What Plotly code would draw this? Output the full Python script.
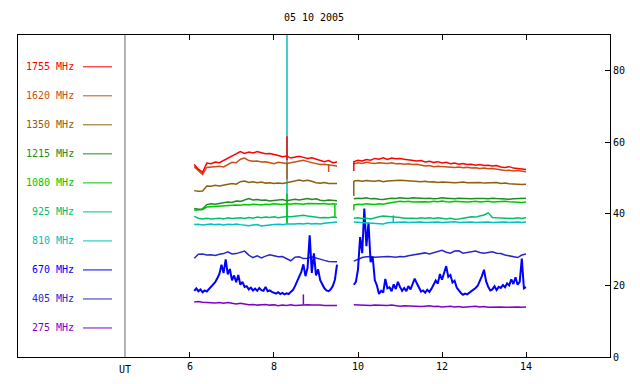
import plotly.graph_objects as go

# ---------------- data ----------------
title_text = "05 10 2005"
channels = ["275 MHz", "405 MHz", "670 MHz", "810 MHz", "925 MHz",
            "1080 MHz", "1215 MHz", "1350 MHz", "1620 MHz", "1755 MHz"]
channel_colors = ["#8000c8", "#2828c8", "#0000ff", "#00c0c0", "#00c070",
                  "#00c800", "#228b22", "#8c6010", "#c85014", "#ff0000"]
x_tick_vals = [6, 8, 10, 12, 14]
x_tick_text = ["6", "8", "10", "12", "14"]
y_tick_vals = [0, 20, 40, 60, 80]
y_tick_text = ["0", "20", "40", "60", "80"]
ut_position = 4.452
ut_label = "UT"

# sampling grids (hours UT)
t1 = [round(6.1 + 0.1 * i, 2) for i in range(35)]      # 6.1 .. 9.5
t2 = [round(9.9 + 0.1 * i, 2) for i in range(42)]      # 9.9 .. 14.0
t1f = [round(6.1 + 0.05 * i, 3) for i in range(69)]    # 6.10 .. 9.50
t2f = [round(9.9 + 0.05 * i, 3) for i in range(83)]    # 9.90 .. 14.00

f1755_a = [53.8, 52.5, 51.6, 54.2, 54.0, 54.5, 54.3, 54.9, 55.6, 56.0, 56.6, 57.4, 56.9, 57.3, 57.0,
           57.4, 57.1, 56.8, 56.9, 56.5, 56.3, 56.0, 56.2, 55.6, 55.9, 56.1, 55.8, 55.5, 55.7, 55.4,
           54.9, 54.6, 54.9, 54.3, 54.5]
f1755_b = [54.6, 55.0, 54.8, 55.2, 55.0, 55.5, 55.3, 55.7, 55.2, 55.6, 55.4, 55.5, 55.3, 55.1, 55.0,
           54.8, 54.9, 54.5, 54.7, 54.4, 54.6, 54.2, 54.4, 54.0, 54.2, 53.9, 54.1, 53.8, 53.9, 53.6,
           53.8, 53.5, 53.6, 53.4, 53.5, 53.1, 53.0, 53.2, 52.8, 52.7, 52.5, 52.4]
f1620_a = [53.2, 52.0, 51.0, 53.0, 53.1, 53.0, 53.3, 53.1, 53.8, 54.4, 54.3, 55.3, 55.6, 54.9, 54.7,
           54.8, 54.5, 54.6, 54.3, 54.0, 54.4, 54.2, 54.1, 54.3, 54.5, 54.9, 55.0, 54.6, 54.4, 54.1,
           53.8, 53.9, 53.6, 53.5, 53.4]
f1620_b = [54.0, 54.3, 54.1, 54.4, 54.2, 54.1, 54.3, 54.2, 54.1, 54.3, 54.0, 54.1, 53.9, 54.0, 53.8,
           53.9, 53.6, 53.4, 53.5, 53.2, 53.3, 53.2, 53.1, 53.2, 53.0, 53.1, 52.9, 53.0, 52.8, 52.9,
           52.7, 52.8, 52.6, 52.7, 52.5, 52.3, 52.1, 52.2, 52.0, 52.1, 51.9, 51.8]
f1350_a = [46.5, 46.3, 46.4, 47.8, 47.7, 48.0, 47.8, 48.1, 48.3, 48.5, 48.3, 49.0, 49.2, 48.8, 49.0,
           48.7, 48.9, 48.6, 48.7, 48.5, 48.6, 48.5, 48.7, 48.9, 49.3, 49.5, 49.2, 49.4, 49.1, 48.7,
           48.6, 48.8, 48.5, 48.6, 48.5]
f1350_b = [49.2, 49.3, 49.1, 49.3, 49.2, 49.1, 49.3, 49.0, 49.2, 49.3, 49.2, 49.4, 49.3, 49.2, 49.3,
           49.1, 49.0, 49.1, 48.9, 49.0, 48.8, 48.9, 48.8, 48.9, 48.7, 48.8, 48.9, 48.7, 48.8, 48.7,
           48.8, 48.6, 48.7, 48.6, 48.8, 48.5, 48.6, 48.4, 48.3, 48.4, 48.2, 48.3]
f1215_a = [41.5, 41.3, 41.4, 42.6, 42.8, 42.7, 42.9, 43.1, 43.3, 43.2, 43.6, 43.5, 43.8, 44.3, 43.9,
           44.0, 43.8, 43.9, 43.6, 43.7, 43.8, 44.0, 43.7, 43.9, 44.1, 43.9, 44.2, 44.3, 44.0, 44.2,
           43.8, 43.7, 43.9, 43.8, 43.7]
f1215_b = [44.2, 44.4, 44.3, 44.5, 44.2, 44.3, 44.1, 44.0, 44.2, 44.4, 44.3, 44.5, 44.4, 44.3, 44.5,
           44.4, 44.2, 44.3, 44.4, 44.2, 44.3, 44.5, 44.4, 44.3, 44.2, 44.4, 44.3, 44.4, 44.2, 44.3,
           44.4, 44.3, 44.2, 44.4, 44.3, 44.2, 44.3, 44.1, 44.2, 44.3, 44.2, 44.4]
f1080_a = [41.0, 41.1, 41.2, 41.9, 42.0, 42.1, 42.0, 42.3, 42.2, 42.4, 42.5, 42.4, 42.6, 42.5, 42.7,
           42.6, 42.5, 42.7, 42.6, 42.8, 42.7, 42.6, 42.8, 42.7, 42.9, 42.8, 42.7, 42.9, 42.8, 42.7,
           42.8, 42.9, 42.7, 42.8, 42.7]
f1080_b = [42.5, 42.7, 42.6, 42.8, 42.7, 42.6, 42.8, 42.7, 43.0, 43.2, 43.4, 43.5, 43.4, 43.5, 43.3,
           43.4, 43.5, 43.4, 43.3, 43.5, 43.4, 43.6, 43.4, 43.3, 43.5, 43.4, 43.5, 43.3, 43.4, 43.5,
           43.3, 43.4, 43.5, 43.3, 43.4, 43.3, 43.5, 43.4, 43.3, 43.4, 43.2, 43.3]
f925_a = [39.3, 38.8, 38.6, 38.8, 38.6, 38.7, 38.8, 38.6, 38.9, 38.7, 38.8, 38.9, 38.7, 39.0, 38.8,
          39.1, 38.9, 39.1, 39.0, 39.2, 38.9, 39.1, 39.3, 39.2, 39.4, 39.5, 39.6, 39.4, 39.2, 39.1,
          38.9, 39.0, 38.9, 39.1, 39.0]
f925_b = [38.8, 38.9, 38.7, 38.8, 38.6, 39.0, 39.2, 39.4, 39.3, 39.4, 39.2, 39.0, 38.8, 38.9, 38.8,
          38.7, 38.9, 38.8, 38.9, 38.7, 38.9, 38.8, 38.6, 38.8, 38.5, 38.6, 38.9, 39.0, 39.2, 39.1,
          39.4, 39.7, 40.3, 39.0, 38.9, 38.8, 38.9, 38.8, 38.7, 38.9, 38.7, 39.0]
f810_a = [37.0, 37.1, 36.9, 37.0, 37.2, 37.0, 37.1, 36.9, 37.1, 37.0, 37.2, 37.0, 36.9, 36.7, 36.9,
          37.0, 36.6, 36.8, 36.9, 37.0, 37.1, 37.0, 37.2, 37.1, 37.2, 37.3, 37.2, 37.4, 37.2, 37.3,
          37.2, 37.4, 37.5, 37.6, 37.7]
f810_b = [37.7, 37.6, 37.5, 37.4, 37.3, 37.2, 37.3, 37.2, 37.5, 37.6, 37.7, 37.6, 37.7, 37.6, 37.7,
          37.8, 37.7, 37.6, 37.7, 37.8, 37.7, 37.6, 37.7, 37.7, 37.8, 37.6, 37.7, 37.8, 37.7, 37.6,
          37.7, 37.8, 37.7, 37.6, 37.7, 37.8, 37.7, 37.6, 37.7, 37.7, 37.6, 37.7]
f670_a = [18.5, 19.2, 18.4, 18.9, 18.1, 18.6, 18.3, 19.0, 19.4, 20.3, 20.9, 22.0, 23.2, 25.8, 23.5,
          27.3, 23.1, 24.6, 21.4, 22.8, 20.9, 22.9, 20.2, 21.0, 19.6, 19.8, 18.9, 19.4, 18.6, 19.1,
          18.5, 19.3, 18.7, 18.5, 19.6, 18.4, 18.6, 18.2, 18.0, 17.7, 18.1, 17.6, 17.9, 17.5, 17.8,
          17.6, 18.2, 18.7, 19.8, 21.0, 22.4, 23.8, 25.9, 22.6, 25.0, 34.0, 23.5, 29.0, 22.8, 24.5,
          21.5, 20.4, 19.2, 18.6, 18.4, 18.9, 19.8, 21.6, 25.8]
f670_b = [20.2, 21.0, 24.5, 33.5, 29.0, 41.5, 31.0, 37.5, 26.5, 28.0, 21.5, 20.0, 17.6, 18.5, 18.0,
          21.8, 19.2, 19.5, 18.4, 20.3, 19.0, 21.0, 19.6, 18.5, 19.3, 18.4, 19.8, 18.9, 20.4, 21.9,
          20.6, 19.2, 18.3, 18.6, 18.0, 18.8, 18.2, 19.1, 20.2, 21.4, 20.5, 23.2, 21.6, 23.6, 25.4,
          22.4, 22.9, 20.8, 21.3, 19.4, 18.6, 17.9, 17.4, 17.7, 17.5, 17.9, 18.4, 18.7, 19.3, 19.9,
          21.1, 22.6, 24.4, 21.2, 19.6, 18.6, 18.9, 19.8, 18.7, 19.6, 19.3, 20.1, 19.5, 20.6, 20.0,
          21.7, 20.4, 22.3, 20.2, 21.0, 27.5, 19.2, 19.5]
f405_a = [27.6, 28.7, 28.8, 28.5, 28.6, 28.4, 28.7, 28.9, 29.4, 28.8, 28.9, 29.2, 29.6, 28.5, 27.8,
          28.3, 27.7, 28.2, 28.6, 28.3, 28.0, 28.1, 27.5, 26.9, 27.9, 28.0, 27.5, 27.6, 28.0, 27.6,
          27.2, 27.0, 26.7, 26.6, 26.6]
f405_b = [26.8, 27.3, 27.8, 28.0, 28.1, 27.9, 28.0, 27.9, 28.1, 28.0, 27.9, 28.1, 28.0, 28.3, 28.5,
          28.6, 28.9, 29.1, 28.8, 29.1, 29.4, 29.8, 29.3, 29.0, 29.6, 29.7, 29.0, 29.2, 29.3, 29.6,
          29.2, 29.0, 29.2, 29.4, 29.0, 28.9, 28.5, 28.2, 28.0, 27.8, 28.5, 28.8]
f275_a = [15.4, 15.5, 15.3, 15.2, 15.3, 15.1, 15.2, 15.0, 15.2, 14.9, 14.8, 15.0, 14.7, 14.6, 14.7,
          14.5, 14.6, 14.7, 14.5, 14.6, 14.3, 14.5, 14.4, 14.6, 14.4, 14.5, 14.7, 14.6, 14.5, 14.6,
          14.5, 14.4, 14.5, 14.4, 14.4]
f275_b = [14.6, 14.5, 14.6, 14.5, 14.4, 14.5, 14.4, 14.5, 14.4, 14.5, 14.3, 14.2, 14.3, 14.2, 14.3,
          14.2, 14.1, 14.2, 14.3, 14.1, 14.2, 14.0, 14.1, 14.2, 14.0, 14.1, 13.9, 14.0, 14.1, 14.2,
          14.0, 14.1, 13.9, 14.0, 14.1, 14.0, 13.9, 14.0, 14.1, 14.0, 13.9, 14.0]

# short spikes: channel, time, low value, high value
spikes = [
    ("810 MHz", 8.31, 37.2, 95.0),
    ("1080 MHz", 8.31, 37.5, 45.6),
    ("1620 MHz", 8.31, 49.7, 54.4),
    ("1755 MHz", 8.31, 55.0, 61.7),
    ("275 MHz", 8.70, 14.6, 17.5),
    ("1620 MHz", 9.30, 51.7, 53.8),
    ("1080 MHz", 9.45, 39.0, 42.7),
    ("1755 MHz", 9.90, 52.0, 54.8),
    ("1350 MHz", 9.90, 45.0, 49.2),
    ("1080 MHz", 9.90, 41.0, 42.6),
    ("810 MHz", 10.84, 37.6, 39.6),
]

series = {
    "275 MHz": (t1, f275_a, t2, f275_b),
    "405 MHz": (t1, f405_a, t2, f405_b),
    "670 MHz": (t1f, f670_a, t2f, f670_b),
    "810 MHz": (t1, f810_a, t2, f810_b),
    "925 MHz": (t1, f925_a, t2, f925_b),
    "1080 MHz": (t1, f1080_a, t2, f1080_b),
    "1215 MHz": (t1, f1215_a, t2, f1215_b),
    "1350 MHz": (t1, f1350_a, t2, f1350_b),
    "1620 MHz": (t1, f1620_a, t2, f1620_b),
    "1755 MHz": (t1, f1755_a, t2, f1755_b),
}

# ---------------- figure ----------------
FONT = "DejaVu Sans Mono"
W, H = 640, 384
ML, MR, MT, MB = 18, 30, 35, 25
PW = W - ML - MR
PH = H - MT - MB

fig = go.Figure()
for name, color in zip(channels, channel_colors):
    ta, va, tb, vb = series[name]
    xs = list(ta) + [None] + list(tb)
    ys = list(va) + [None] + list(vb)
    for (ch, t, lo, hi) in spikes:
        if ch == name:
            xs += [None, t, t]
            ys += [None, lo, hi]
    lw = 2 if name == "670 MHz" else 1.5
    fig.add_trace(go.Scatter(x=xs, y=ys, mode="lines", name=name,
                             line=dict(color=color, width=lw),
                             connectgaps=False, showlegend=False,
                             hoverinfo="skip"))

# legend (text + short line), drawn top row = highest frequency
shapes = []
annotations = []
row_top_px = 67
row_step_px = 29.2
text_right_px = 76
line_x0_px, line_x1_px = 83, 112
for i, (name, color) in enumerate(zip(channels[::-1], channel_colors[::-1])):
    py = row_top_px + row_step_px * i
    yp = (H - MB - py) / PH
    annotations.append(dict(xref="paper", yref="paper",
                            x=(text_right_px - ML) / PW, y=yp,
                            xanchor="right", yanchor="middle",
                            text=name, showarrow=False,
                            font=dict(family=FONT, size=10, color=color)))
    shapes.append(dict(type="line", xref="paper", yref="paper",
                       x0=(line_x0_px - ML) / PW, x1=(line_x1_px - ML) / PW,
                       y0=yp, y1=yp, line=dict(color=color, width=1)))

# UT divider line and label
shapes.append(dict(type="line", xref="x", yref="paper", x0=ut_position, x1=ut_position,
                   y0=0, y1=1, line=dict(color="#666666", width=1)))
annotations.append(dict(xref="x", yref="paper", x=ut_position, y=0,
                        yanchor="top", yshift=-5, text=ut_label, showarrow=False,
                        font=dict(family=FONT, size=10, color="black")))

fig.update_layout(
    width=W, height=H,
    margin=dict(l=ML, r=MR, t=MT, b=MB),
    paper_bgcolor="white", plot_bgcolor="white",
    title=dict(text=title_text, x=(ML + PW / 2) / W, xanchor="center",
               y=1 - 17 / H, yanchor="middle",
               font=dict(family=FONT, size=10, color="black")),
    font=dict(family=FONT, size=10, color="black"),
    shapes=shapes, annotations=annotations,
    showlegend=False,
)
fig.update_xaxes(range=[1.905, 16.0], tickvals=x_tick_vals, ticktext=x_tick_text,
                 ticks="inside", ticklen=5, tickcolor="black",
                 showline=True, linecolor="black", linewidth=1, mirror="ticks",
                 showgrid=False, zeroline=False,
                 tickfont=dict(family=FONT, size=10, color="black"))
fig.update_yaxes(range=[0, 90], tickvals=y_tick_vals, ticktext=y_tick_text,
                 side="right", ticks="inside", ticklen=5, tickcolor="black",
                 showline=True, linecolor="black", linewidth=1, mirror=True,
                 showgrid=False, zeroline=False,
                 tickfont=dict(family=FONT, size=10, color="black"))

fig.write_html("out.html", config={"displayModeBar": False},
               post_script="document.body.style.margin='0';document.body.style.padding='0';")
